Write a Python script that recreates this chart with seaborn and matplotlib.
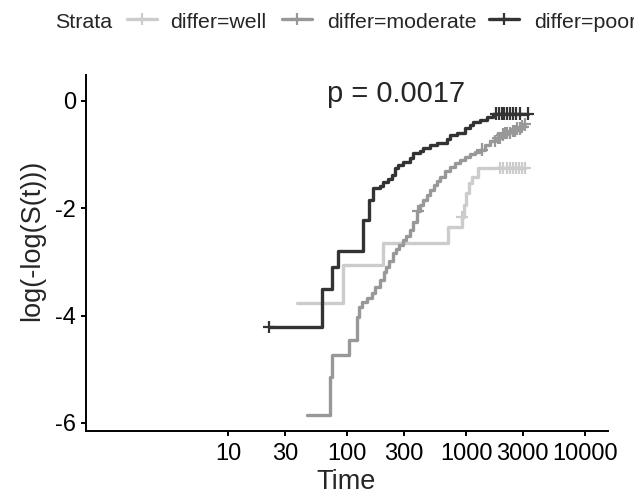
import numpy as np
import pandas as pd
import matplotlib
matplotlib.use("Agg")
import matplotlib.pyplot as plt
from matplotlib.lines import Line2D
import seaborn as sns

# ---------------- data ----------------
strata = ["differ=well", "differ=moderate", "differ=poor"]
colors = ["#CCCCCC", "#989898", "#333333"]

well_t = [38, 92, 201, 706, 925, 962, 1000, 1060, 1123, 1262]
well_v = [-3.76, -3.05, -2.64, -2.35, -2.16, -1.94, -1.71, -1.53, -1.42, -1.25]
well_end = 3131
well_cens = [925, 1930, 2050, 2200, 2350, 2500, 2650, 2800, 2950, 3131]

mod_t = [46, 72, 75, 104, 121, 126, 134, 147, 162, 172, 190, 204, 213, 225, 244,
         258, 274, 296, 313, 338, 359, 388, 411, 435, 470, 498, 538, 571, 605, 667,
         734, 809, 891, 982, 1081, 1191, 1312, 1445, 1592, 1753, 1931, 2127, 2343,
         2581, 2843, 3000]
mod_v = [-5.85, -5.14, -4.73, -4.45, -4.02, -3.84, -3.74, -3.67, -3.58, -3.46,
         -3.33, -3.18, -3.09, -2.98, -2.83, -2.76, -2.68, -2.59, -2.51, -2.40,
         -2.25, -2.05, -1.94, -1.84, -1.75, -1.66, -1.56, -1.49, -1.42, -1.30,
         -1.23, -1.15, -1.10, -1.04, -0.99, -0.95, -0.91, -0.82, -0.75, -0.69,
         -0.63, -0.60, -0.56, -0.52, -0.48, -0.44]
mod_end = 3131
mod_cens = [395, 1360, 1750, 1850, 1930, 2030, 2130, 2230, 2340, 2460, 2580,
            2700, 2840, 2980, 3131]

poor_t = [22, 62, 75, 84, 136, 153, 165, 189, 201, 221, 239, 253, 268, 296, 338,
          359, 411, 435, 498, 571, 692, 734, 840, 982, 1081, 1146, 1312, 1500, 1686]
poor_v = [-4.21, -3.50, -3.09, -2.79, -2.22, -1.84, -1.62, -1.58, -1.51, -1.45,
          -1.38, -1.25, -1.19, -1.14, -1.06, -0.97, -0.93, -0.88, -0.82, -0.78,
          -0.71, -0.63, -0.60, -0.50, -0.45, -0.39, -0.35, -0.30, -0.24]
poor_end = 3319
poor_cens = [22, 1800, 1900, 2000, 2100, 2200, 2350, 2500, 2650, 2840, 3319]

x_ticks = [10, 30, 100, 300, 1000, 3000, 10000]
x_labels = ["10", "30", "100", "300", "1000", "3000", "10000"]
y_ticks = [-6, -4, -2, 0]
y_labels = ["-6", "-4", "-2", "0"]
pval_text = "p = 0.0017"

# ---------------- tables ----------------
curves = [(well_t, well_v, well_end, well_cens),
          (mod_t, mod_v, mod_end, mod_cens),
          (poor_t, poor_v, poor_end, poor_cens)]
line_rows, cens_rows = [], []
for name, (t, v, tend, cens) in zip(strata, curves):
    tt = list(t) + [tend]
    vv = list(v) + [v[-1]]
    for a, b in zip(tt, vv):
        line_rows.append((name, a, b))
    t_arr = np.asarray(t)
    for c in cens:
        idx = max(np.searchsorted(t_arr, c, side="right") - 1, 0)
        cens_rows.append((name, c, v[idx]))
lines_df = pd.DataFrame(line_rows, columns=["strata", "time", "value"])
cens_df = pd.DataFrame(cens_rows, columns=["strata", "time", "value"])

# ---------------- plot ----------------
sns.set_style("ticks")
plt.rcParams["font.family"] = ["Liberation Sans", "DejaVu Sans"]

fig = plt.figure(figsize=(6.34, 5.01), dpi=100)
W, H = 634, 501
ax_l, ax_r, ax_b, ax_t = 86, 608, 431, 75
ax = fig.add_axes([ax_l / W, 1 - ax_b / H, (ax_r - ax_l) / W, (ax_b - ax_t) / H])

pal = dict(zip(strata, colors))
ax.set_xscale("log")
sns.lineplot(data=lines_df, x="time", y="value", hue="strata", hue_order=strata,
             palette=pal, drawstyle="steps-post", estimator=None, sort=True,
             linewidth=2.4, legend=False, ax=ax)
sns.scatterplot(data=cens_df, x="time", y="value", hue="strata", hue_order=strata,
                palette=pal, marker="+", s=80, linewidth=1.6, legend=False, ax=ax,
                zorder=3)

ax.set_xlim(10 ** -0.193, 10 ** 4.193)
ax.set_ylim(-6.15, 0.48)
ax.set_xticks(x_ticks)
ax.set_xticklabels(x_labels)
ax.xaxis.set_minor_locator(matplotlib.ticker.NullLocator())
ax.set_yticks(y_ticks)
ax.set_yticklabels(y_labels)

for s in ["top", "right"]:
    ax.spines[s].set_visible(False)
for s in ["left", "bottom"]:
    ax.spines[s].set_linewidth(1.4)
    ax.spines[s].set_color("black")
ax.tick_params(axis="both", length=3.8, width=1.4, color="black", pad=3.5,
               labelsize=17, labelcolor="black", direction="out")
ax.tick_params(axis="x", pad=4.5)

ax.set_xlabel("Time", fontsize=19.5)
ax.set_ylabel("log(-log(S(t)))", fontsize=19.5)
ax.xaxis.set_label_coords(0.498, -0.108)
ax.yaxis.set_label_coords(-0.079, 0.5365)

ax.text(67.9, -0.02, pval_text, fontsize=21, ha="left", va="baseline")

# ---------------- legend (top) ----------------
ly = 1 - 28 / H
fig.text(55 / W, ly, "Strata", fontsize=15.4, ha="left", va="baseline")
key_x = [(127, 157), (282, 312), (489, 519)]
txt_x = [170, 327, 534]
for (x0, x1), tx, name, col in zip(key_x, txt_x, strata, colors):
    yk = 1 - 19 / H
    fig.add_artist(Line2D([x0 / W, x1 / W], [yk, yk], transform=fig.transFigure,
                          color=col, linewidth=2.4))
    fig.add_artist(Line2D([(x0 + x1) / 2 / W], [yk], transform=fig.transFigure,
                          color=col, marker="+", markersize=9, markeredgewidth=1.6,
                          linestyle="none"))
    fig.text(tx / W, ly, name, fontsize=15.4, ha="left", va="baseline")

fig.savefig("out.png", dpi=100)
